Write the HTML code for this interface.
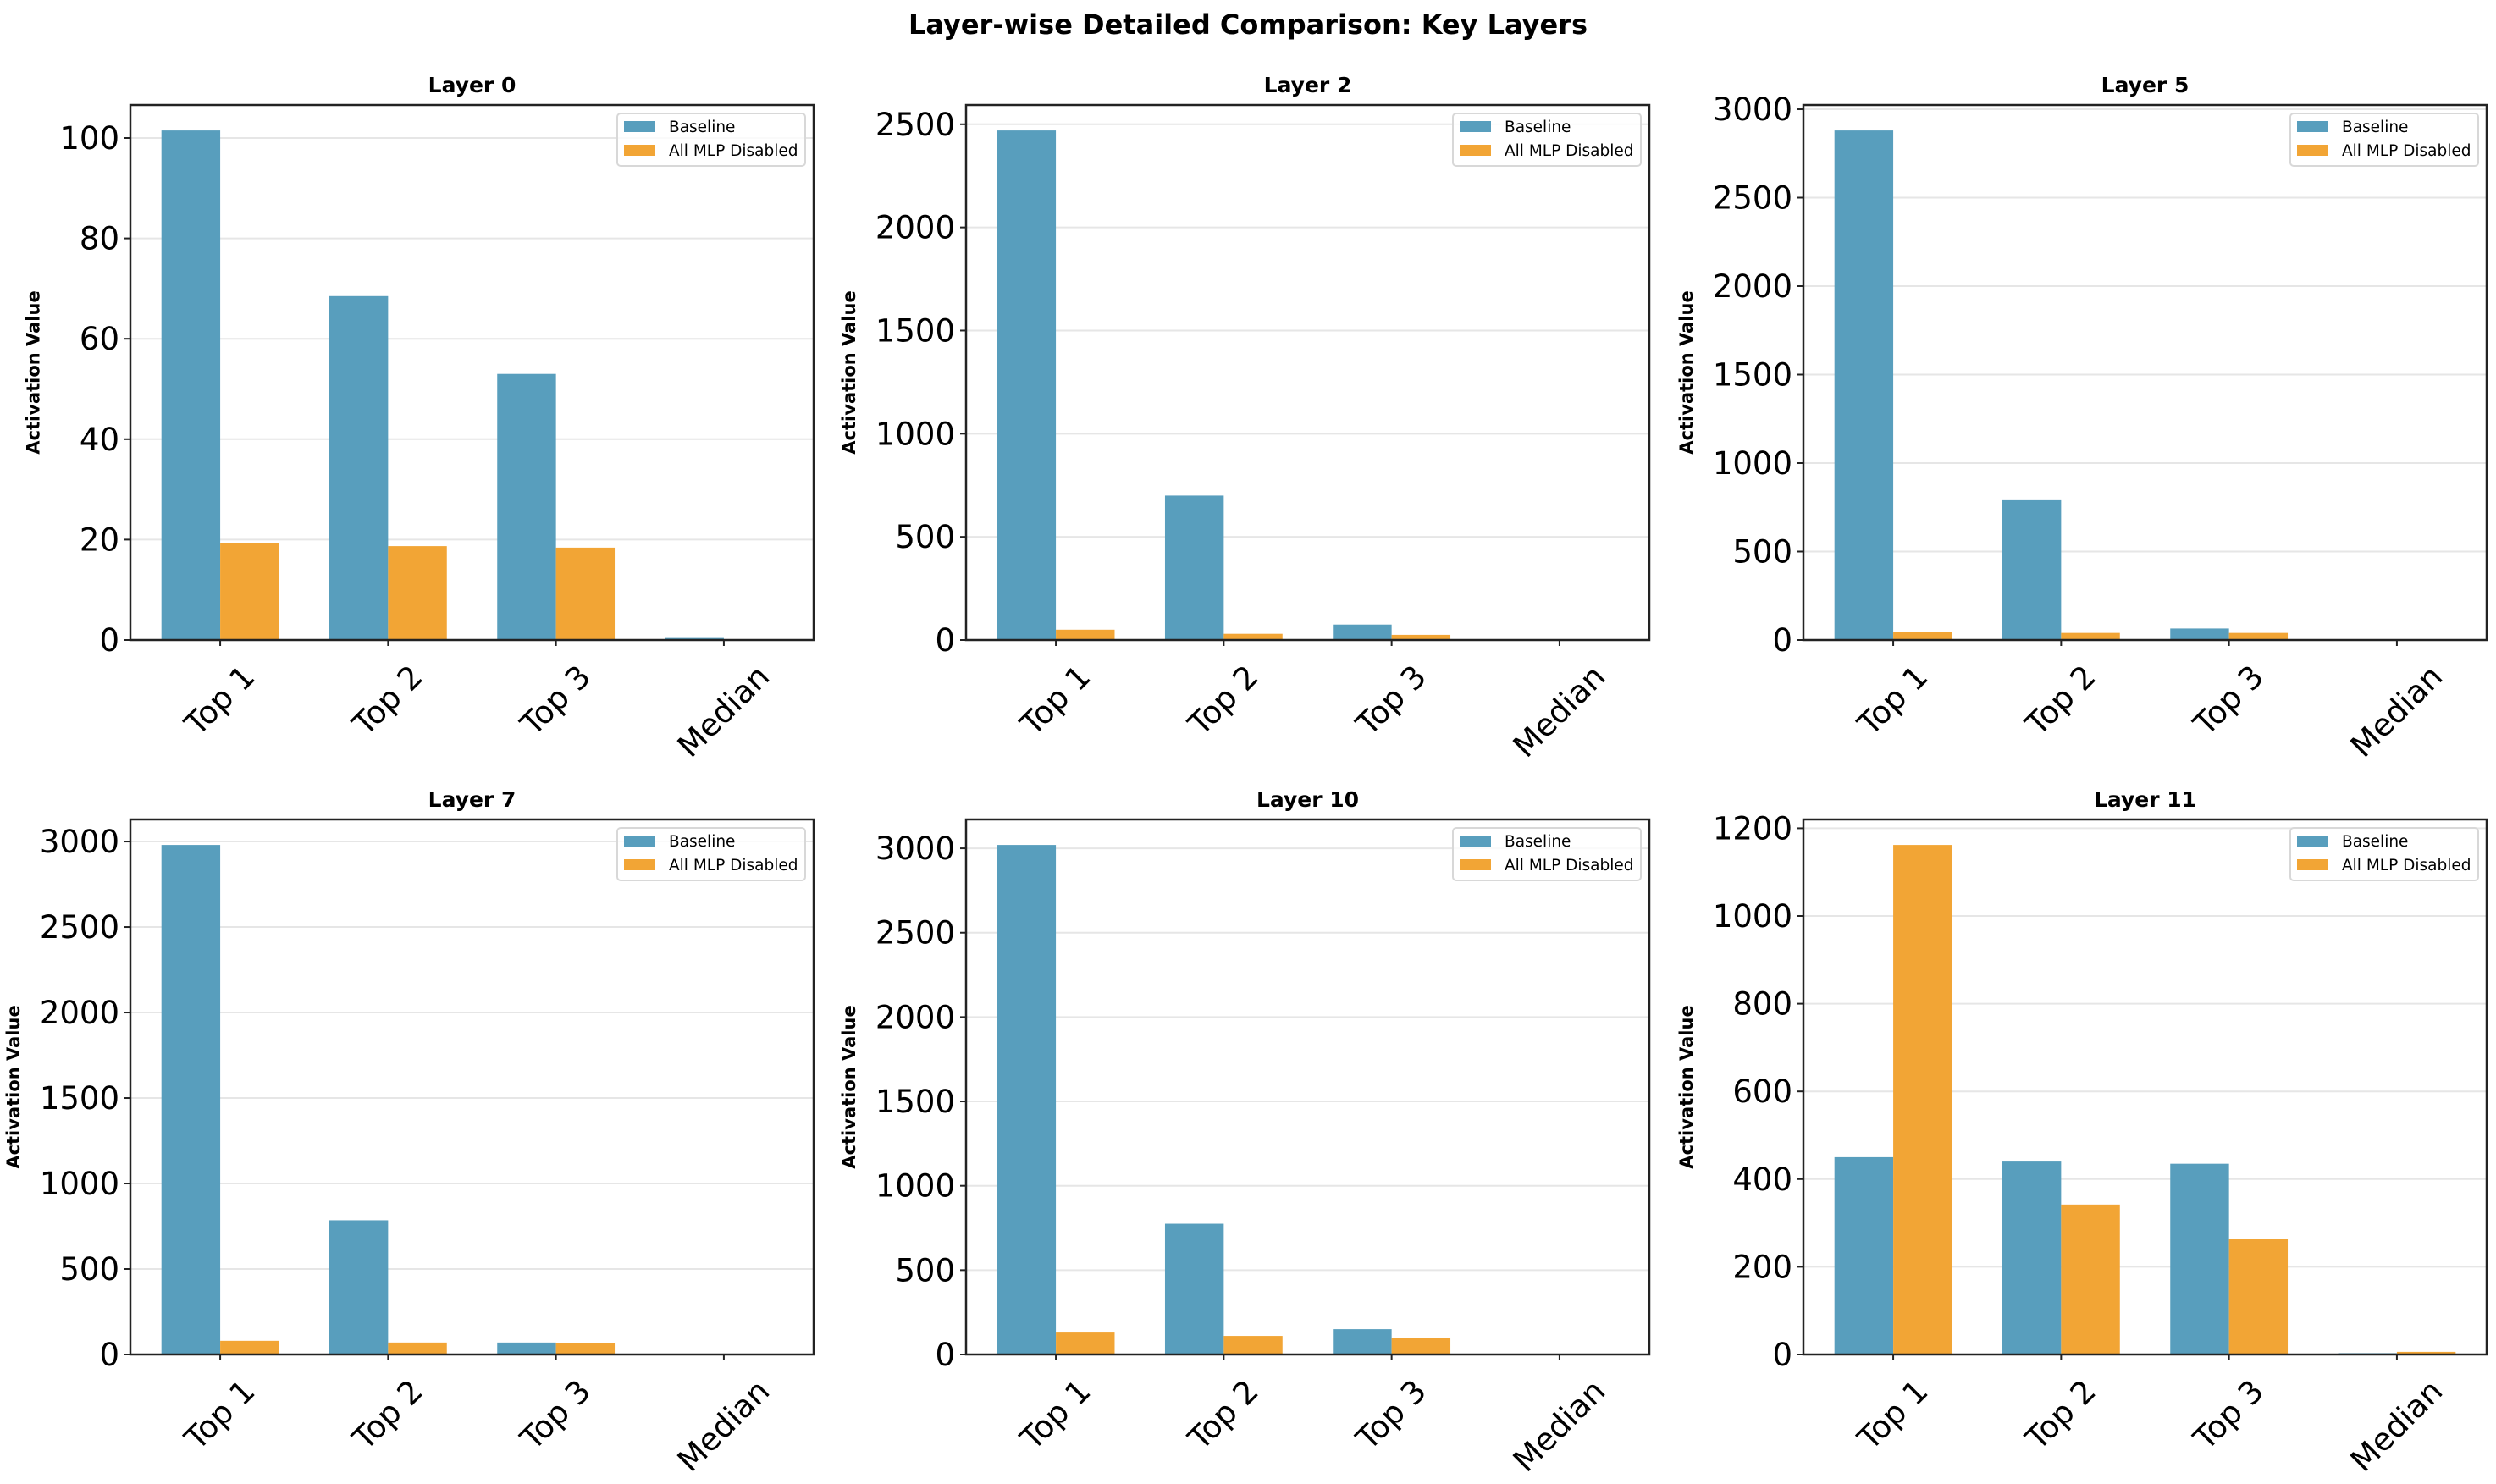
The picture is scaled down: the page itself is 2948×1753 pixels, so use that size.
<!DOCTYPE html>
<html><head><meta charset="utf-8">
<style>
html,body{margin:0;padding:0;background:#fff;}
svg{display:block;font-family:"DejaVu Sans","Liberation Sans",sans-serif;}
</style></head>
<body>
<svg id="fig" width="2948" height="1753" viewBox="0 0 2948 1753" xmlns="http://www.w3.org/2000/svg">
<rect width="2948" height="1753" fill="#fff"/>
<text x="1474" y="40" text-anchor="middle" font-size="32" font-weight="bold">Layer-wise Detailed Comparison: Key Layers</text>
</svg>
<script>
const categories = ["Top 1", "Top 2", "Top 3", "Median"];
const layerNames = ["Layer 0", "Layer 2", "Layer 5", "Layer 7", "Layer 10", "Layer 11"];
const baseline0 = [101.5, 68.5, 53, 0.4];
const disabled0 = [19.3, 18.7, 18.4, 0.1];
const baseline2 = [2470, 700, 75, 2];
const disabled2 = [50, 30, 25, 1];
const baseline5 = [2880, 790, 65, 2];
const disabled5 = [45, 40, 40, 1];
const baseline7 = [2980, 785, 70, 2];
const disabled7 = [80, 70, 68, 1];
const baseline10 = [3020, 775, 150, 2];
const disabled10 = [130, 110, 100, 1];
const baseline11 = [450, 440, 435, 3];
const disabled11 = [1162, 342, 263, 6];
const ticks0 = [0, 20, 40, 60, 80, 100];
const ticks2 = [0, 500, 1000, 1500, 2000, 2500];
const ticks5 = [0, 500, 1000, 1500, 2000, 2500, 3000];
const ticks7 = [0, 500, 1000, 1500, 2000, 2500, 3000];
const ticks10 = [0, 500, 1000, 1500, 2000, 2500, 3000];
const ticks11 = [0, 200, 400, 600, 800, 1000, 1200];
const seriesNames = ["Baseline", "All MLP Disabled"];

const NS = "http://www.w3.org/2000/svg";
const fig = document.getElementById("fig");
function mk(tag, attrs, parent){
  const e = document.createElementNS(NS, tag);
  for (const k in attrs) e.setAttribute(k, attrs[k]);
  (parent||fig).appendChild(e);
  return e;
}
const COLORS = ["#589ebd", "#f2a535"];
const panels = [
  [baseline0, disabled0, ticks0],
  [baseline2, disabled2, ticks2],
  [baseline5, disabled5, ticks5],
  [baseline7, disabled7, ticks7],
  [baseline10, disabled10, ticks10],
  [baseline11, disabled11, ticks11]
];
const colLeft = [154, 1141, 2130];
const rowTop = [124, 968];
const W = 807, H = 632;

panels.forEach((p, i) => {
  const [base, dis, ticks] = p;
  const L = colLeft[i % 3], T = rowTop[Math.floor(i / 3)], B = T + H, R = L + W;
  const g = mk("g", {});
  
  
  const ymax = Math.max(...base, ...dis) * 1.05;
  const x0 = -0.535, x1 = categories.length - 1 + 0.535;
  const xs = v => L + (v - x0) / (x1 - x0) * W;
  const ys = v => B - v / ymax * H;
  ticks.forEach(t => {
    const y = ys(t);
    const gl = mk("line", {x1: L, x2: R, y1: y, y2: y, stroke: "#e6e6e6", "stroke-width": 2}, g);
    
    
  });
  const bw = 0.35;
  [base, dis].forEach((arr, s) => {
    arr.forEach((v, c) => {
      const cx = c + (s === 0 ? -bw / 2 : bw / 2);
      const xa = xs(cx - bw / 2), xb = xs(cx + bw / 2);
      const r = mk("rect", {x: xa, y: ys(v), width: xb - xa, height: B - ys(v), fill: COLORS[s]}, g);
      
      
    });
  });
  const fr = mk("rect", {x: L, y: T, width: W, height: H, fill: "none", stroke: "#222", "stroke-width": 2.5}, g);
  
  
  let maxW = 0;
  ticks.forEach(t => {
    const y = ys(t);
    mk("line", {x1: L - 7, x2: L, y1: y, y2: y, stroke: "#222", "stroke-width": 2}, g);
    const tl = mk("text", {x: L - 13, y: y + 13, "text-anchor": "end", "font-size": 37}, g);
    tl.textContent = t;
    
    
    maxW = Math.max(maxW, tl.getComputedTextLength());
  });
  categories.forEach((c, k) => {
    const x = xs(k);
    mk("line", {x1: x, x2: x, y1: B, y2: B + 7, stroke: "#222", "stroke-width": 2}, g);
    const tl = mk("text", {x: 0, y: 0, "text-anchor": "middle", "font-size": 37}, g);
    tl.textContent = c;
    
    
    const w = tl.getComputedTextLength();
    const half = (w + 37) * 0.7071 / 2;
    const cy = B + 24 + half;
    tl.setAttribute("transform", `translate(${x},${cy}) rotate(-45) translate(0,12)`);
  });
  const tt = mk("text", {x: L + W / 2, y: T - 15, "text-anchor": "middle", "font-size": 25, "font-weight": "bold"}, g);
  tt.textContent = layerNames[i];
  
  
  const ylx = L - 13 - maxW - 24;
  const yl = mk("text", {x: 0, y: 0, "text-anchor": "middle", "font-size": 21, "font-weight": "bold", transform: `translate(${ylx},${T + H / 2}) rotate(-90)`}, g);
  yl.textContent = "Activation Value";
  
  
  const lg = mk("g", {}, g);
  
  
  const lx = R - 232, ly = T + 10;
  mk("rect", {x: lx, y: ly, width: 222, height: 62, rx: 4, fill: "#fff", "fill-opacity": 0.8, stroke: "#d8d8d8", "stroke-width": 2}, lg);
  seriesNames.forEach((n, s) => {
    const le = mk("g", {}, lg);
    
    
    mk("rect", {x: lx + 8, y: ly + 9 + s * 28, width: 37, height: 13, fill: COLORS[s]}, le);
    const t = mk("text", {x: lx + 61, y: ly + 22 + s * 28, "font-size": 18.5}, le);
    t.textContent = n;
  });
});
</script>
</body></html>
